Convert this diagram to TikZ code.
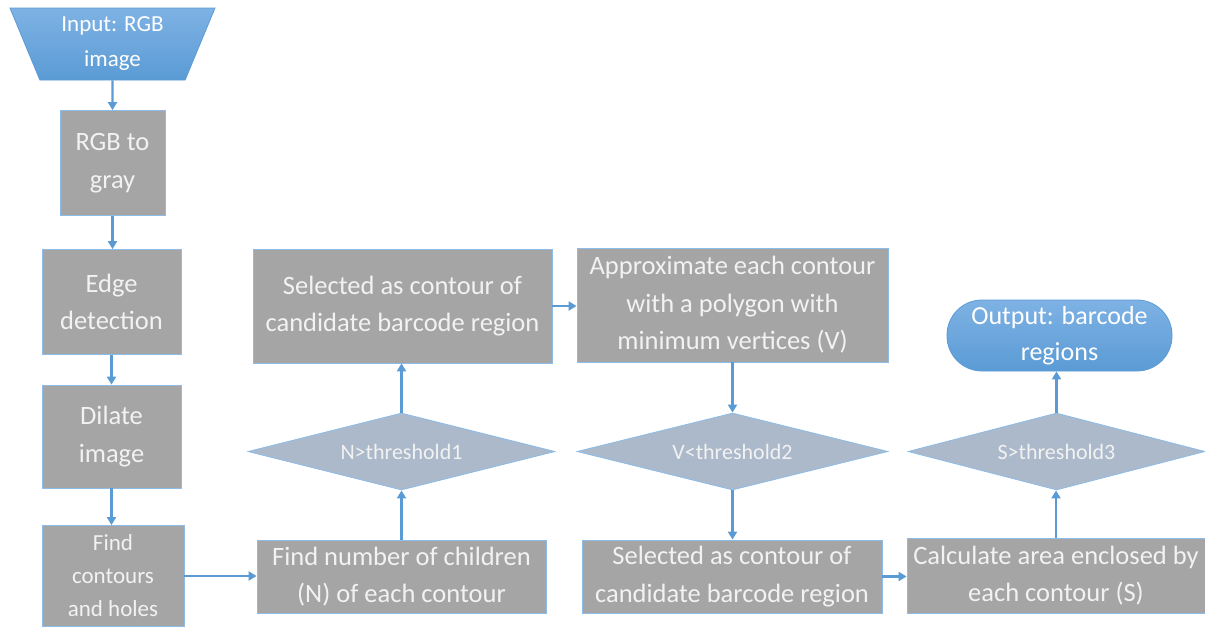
\documentclass[tikz,border=0pt]{standalone}
\usepackage{fontspec}
\setmainfont{Carlito}
\usetikzlibrary{shapes.geometric,arrows.meta}
\definecolor{accent}{HTML}{5B9BD5}
\definecolor{accentlight}{HTML}{7EB2E4}
\definecolor{edgeblue}{HTML}{8DBCE8}
\definecolor{boxgray}{HTML}{A5A5A5}
\definecolor{decgray}{HTML}{ACB9CA}
\definecolor{txt}{HTML}{F2F2F2}
\tikzset{
  x=1pt, y=-1pt,
  procbox/.style={rectangle, draw=edgeblue, line width=0.8pt, fill=boxgray,
    text=txt, inner sep=0pt, align=center,
    font=\fontsize{26.5}{37.5}\selectfont},
  smallbox/.style={procbox, font=\fontsize{23}{33}\selectfont},
  decision/.style={diamond, shape aspect=4, draw=edgeblue, line width=0.8pt,
    fill=decgray, text=txt, inner sep=0pt, align=center,
    font=\fontsize{22}{26}\selectfont},
  terminal/.style={draw=accent, line width=0.8pt, top color=accentlight,
    bottom color=accent, text=white, inner sep=0pt, align=center},
  flow/.style={draw=accent, line width=2.4pt,
    -{Triangle[width=9pt,length=8pt]}},
}
\begin{document}
\begin{tikzpicture}
\useasboundingbox (0,0) rectangle (1205,627);

% left column
\node[terminal, trapezium, shape border rotate=180, trapezium stretches body,
      trapezium left angle=61, trapezium right angle=61,
      minimum width=205pt, minimum height=72pt,
      font=\fontsize{23}{35}\selectfont] (inp) at (112.5,44)
      {Input: RGB\\image};
\node[procbox, minimum width=105pt, minimum height=105pt] (rgb) at (112.5,163)
      {RGB to\\gray};
\node[procbox, minimum width=139pt, minimum height=105pt] (edge) at (111.5,302)
      {Edge\\detection};
\node[procbox, minimum width=139pt, minimum height=103pt] (dil) at (111.5,436.5)
      {Dilate\\image};
\node[smallbox, minimum width=142pt, minimum height=101pt] (find) at (113,576)
      {Find\\contours\\and holes};

% second column
\node[procbox, minimum width=289pt, minimum height=73pt] (nch) at (401.5,576.5)
      {Find number of children\\(N) of each contour};
\node[decision, minimum width=307pt, minimum height=77pt] (d1) at (401.5,451.5)
      {N>threshold1};
\node[procbox, minimum width=299pt, minimum height=114pt] (sel1) at (402.5,306)
      {Selected as contour of\\candidate barcode region};

% third column
\node[procbox, minimum width=311pt, minimum height=114pt] (appr) at (732.5,305)
      {Approximate each contour\\with a polygon with\\minimum vertices (V)};
\node[decision, minimum width=311pt, minimum height=77pt] (d2) at (732.5,451.5)
      {V<threshold2};
\node[procbox, minimum width=300pt, minimum height=73pt] (sel2) at (732,576.5)
      {Selected as contour of\\candidate barcode region};

% fourth column
\node[procbox, minimum width=298pt, minimum height=75pt] (calc) at (1056,575.5)
      {Calculate area enclosed by\\each contour (S)};
\node[decision, minimum width=297pt, minimum height=77pt] (d3) at (1056.5,451.5)
      {S>threshold3};
\node[terminal, rectangle, rounded corners=35pt, minimum width=225pt,
      minimum height=71pt, font=\fontsize{26}{36}\selectfont] (out)
      at (1059.5,335.5) {Output: barcode\\regions};

% connectors
\draw[flow] (inp.south) -- (rgb.north);
\draw[flow] (rgb.south) -- (rgb.south |- edge.north);
\draw[flow] (edge.south) -- (dil.north);
\draw[flow] (dil.south) -- (dil.south |- find.north);
\draw[flow] (find.east) -- (find.east -| nch.west);
\draw[flow] (nch.north) -- (nch.north |- d1.south);
\draw[flow] (d1.north) -- (d1.north |- sel1.south);
\draw[flow] (sel1.east) -- (sel1.east -| appr.west);
\draw[flow] (appr.south) -- (d2.north);
\draw[flow] (d2.south) -- (d2.south |- sel2.north);
\draw[flow] (sel2.east) -- (sel2.east -| calc.west);
\draw[flow] (calc.north) -- (calc.north |- d3.south);
\draw[flow] (d3.north) -- (d3.north |- out.south);
\end{tikzpicture}
\end{document}
